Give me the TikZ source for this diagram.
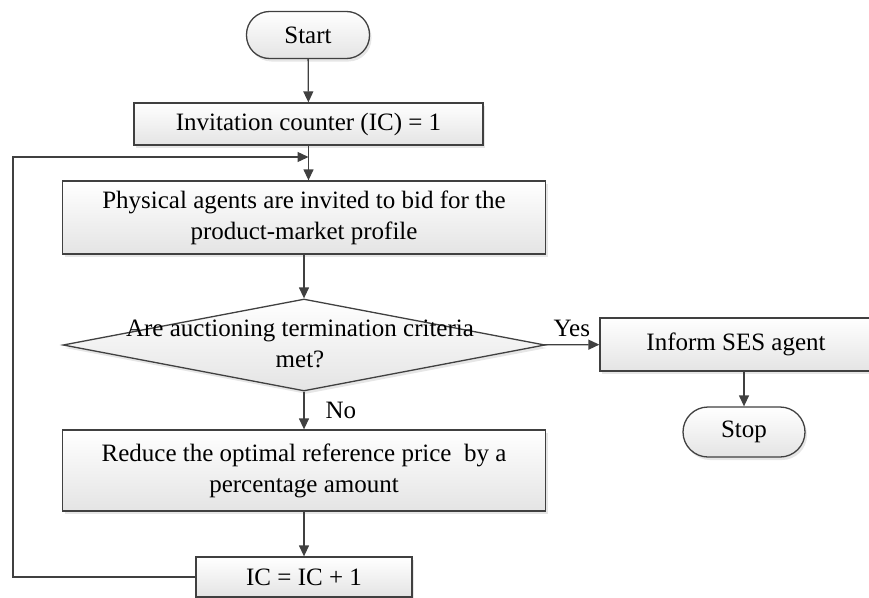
\documentclass[tikz,border=0pt]{standalone}
\usepackage{fontspec}
\setmainfont{Liberation Serif}
\usetikzlibrary{shapes.geometric,arrows.meta,shadows}
\definecolor{edge}{HTML}{404040}
\definecolor{fillbot}{HTML}{E4E4E4}
\begin{document}
\begin{tikzpicture}[x=1pt,y=-1pt,
  font=\fontsize{25}{31}\selectfont,
  base/.style={draw=edge, line width=1.3pt, top color=white, bottom color=fillbot,
    drop shadow={shadow xshift=2pt, shadow yshift=-3pt, opacity=0.2},
    inner sep=0pt, align=center},
  procbox/.style={base, rectangle},
  term/.style={base, rectangle, rounded corners=23pt},
  decide/.style={base, diamond},
  link/.style={draw=edge, line width=1.3pt, -{Triangle[length=11pt,width=10pt]}},
  lbl/.style={inner sep=0pt, align=center}
]
\useasboundingbox (0,0) rectangle (869,597);

% flow nodes
\node[term, minimum width=123pt, minimum height=47pt] (start) at (308,35) {Start};
\node[procbox, minimum width=349pt, minimum height=42pt] (inv) at (308.5,124) {Invitation counter (IC) = 1};
\node[procbox, minimum width=483pt, minimum height=73pt] (phys) at (304,217.5)
  {Physical agents are invited to bid for the\\product-market profile};
\node[decide, minimum width=482pt, minimum height=92pt] (dec) at (304,345) {};
\node[lbl] (dectext) at (300,344) {Are auctioning termination criteria\\met?};
\node[procbox, minimum width=272pt, minimum height=53pt] (inf) at (736,344.5) {Inform SES agent};
\node[term, minimum width=122pt, minimum height=50pt, rounded corners=25pt] (stop) at (744,432) {Stop};
\node[procbox, minimum width=483pt, minimum height=81pt] (red) at (304,470.5)
  {Reduce the optimal reference price~ by a\\percentage amount};
\node[procbox, minimum width=216pt, minimum height=40pt] (ic) at (304,577) {IC = IC + 1};

% connectors
\draw[link] (start) -- (inv);
\draw[link] (inv.south) -- (inv.south |- phys.north);
\draw[link] (phys) -- (dec);
\draw[link] (dec) -- node[lbl, midway, above=7pt] {Yes} (inf);
\draw[link] (dec) -- node[lbl, midway, right=21pt] {No} (red);
\draw[link] (inf.south -| stop) -- (stop);
\draw[link] (red) -- (ic);
\coordinate (lc) at (13,157);
\draw[link] (ic.west) -| (lc) -- (lc -| inv.south);
\end{tikzpicture}
\end{document}
